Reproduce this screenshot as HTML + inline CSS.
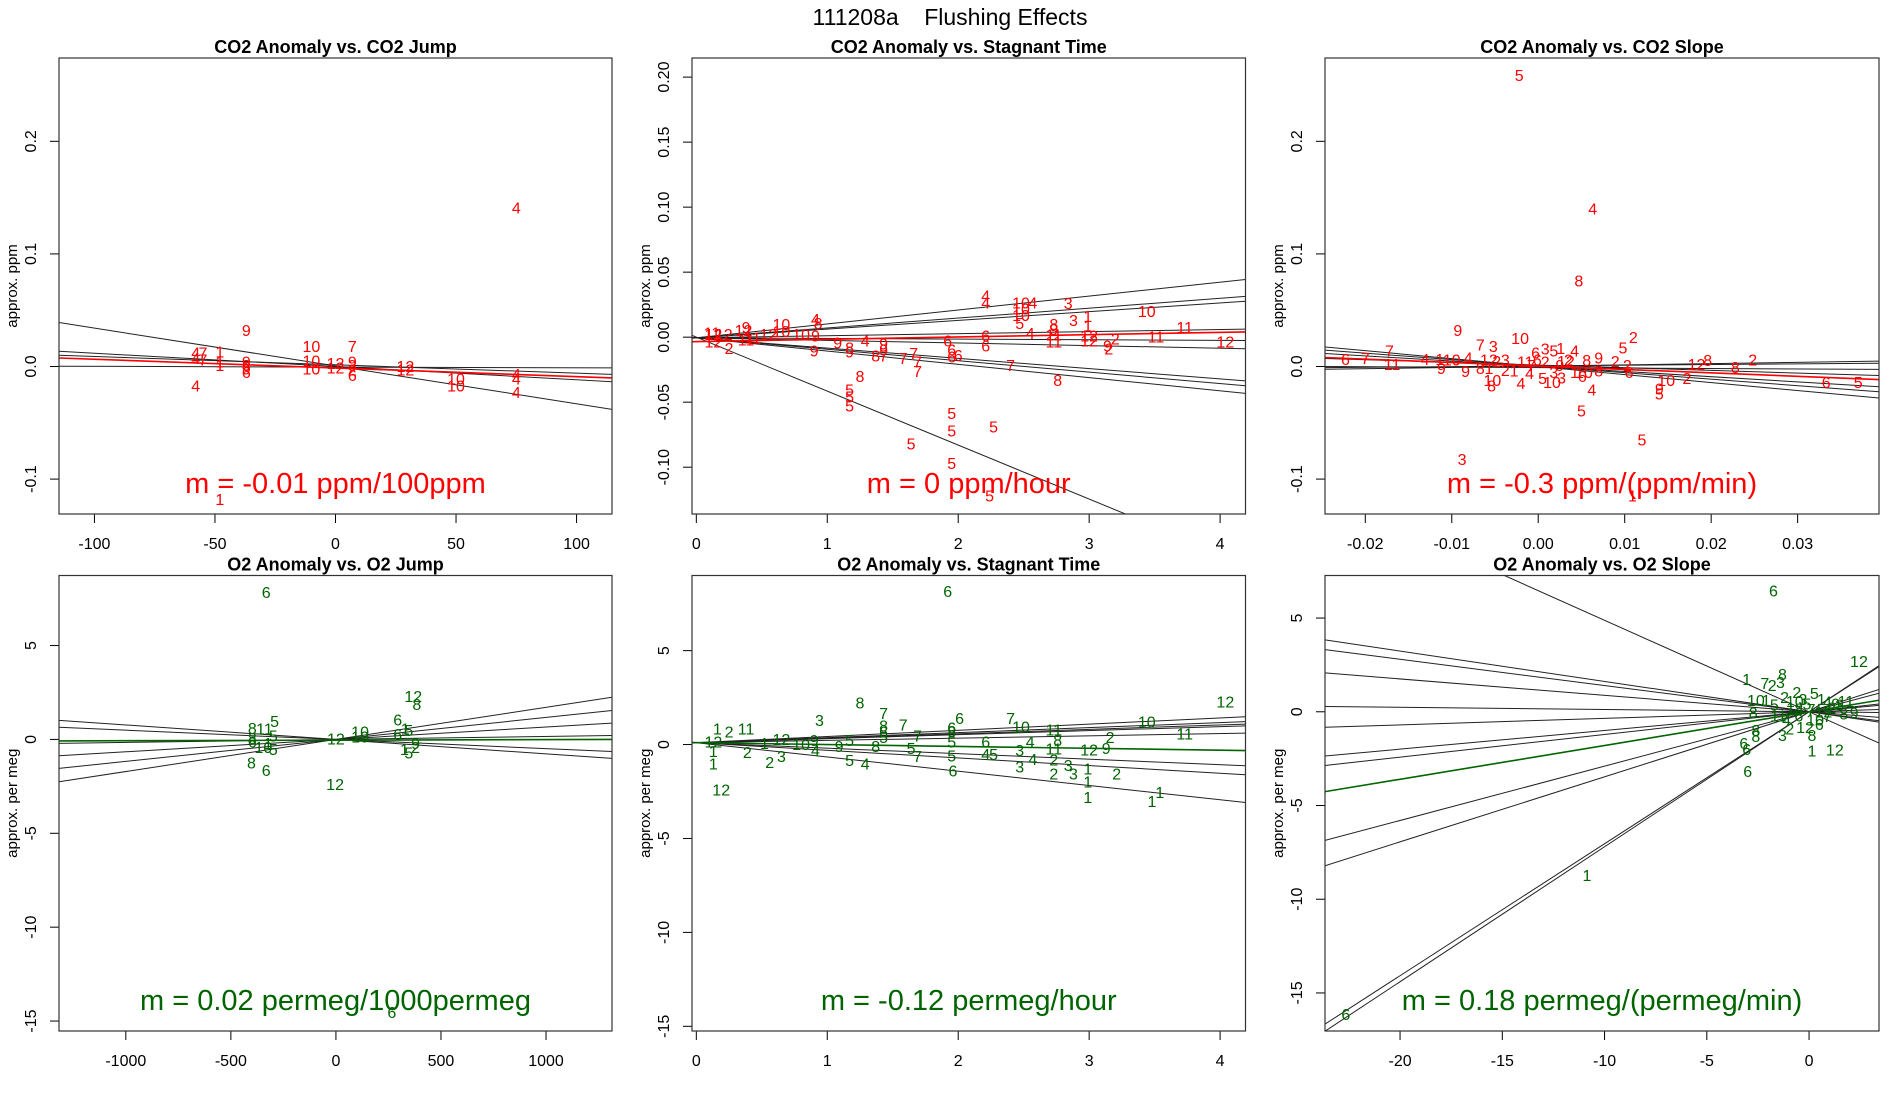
<!DOCTYPE html>
<html><head><meta charset="utf-8"><style>
html,body{margin:0;padding:0;background:#fff;}
svg{display:block;font-family:"Liberation Sans",Arial,sans-serif;}
</style></head><body>
<svg id="chart" width="1900" height="1100" viewBox="0 0 1900 1100">
<text x="950" y="25" text-anchor="middle" font-size="23" style="white-space:pre" xml:space="preserve">111208a    Flushing Effects</text>
</svg>
<script>
// ---------- Panel 1: CO2 Anomaly vs CO2 Jump ----------
const p1XTicks = [-100,-50,0,50,100];
const p1XTickLabels = ["-100","-50","0","50","100"];
const p1YTicks = [-0.1,0,0.1,0.2];
const p1YTickLabels = ["-0.1","0.0","0.1","0.2"];
const p1Points = [[75,0.14,'4'],[-37,0.031,'9'],[-10,0.017,'10'],[7,0.017,'7'],[-48,0.012,'1'],[-58,0.011,'4'],[-55,0.011,'7'],[-58,0.006,'4'],[-55,0.005,'7'],[-48,0.003,'1'],[-48,0.0,'1'],[-37,0.003,'9'],[-37,0.0,'8'],[-37,-0.003,'9'],[-37,-0.006,'6'],[-10,0.004,'10'],[-10,-0.003,'10'],[0,0.002,'12'],[0,-0.002,'12'],[7,0.003,'9'],[7,0,'3'],[7,-0.004,'2'],[7,-0.009,'6'],[29,-0.001,'12'],[29,-0.004,'12'],[50,-0.012,'10'],[50,-0.018,'10'],[75,-0.008,'4'],[75,-0.012,'4'],[75,-0.024,'4'],[-58,-0.018,'4'],[-48,-0.119,'1']];
const p1LineInts = [0.0005,0,0.0015,-0.0005];
const p1LineSlopes = [-0.000336,-0.0001177,-0.0000741,-0.0000065];
const p1FitInt = -0.0013;
const p1FitSlope = -0.0000772;

// ---------- Panel 2: CO2 Anomaly vs Stagnant Time ----------
const p2XTicks = [0,1,2,3,4];
const p2XTickLabels = ["0","1","2","3","4"];
const p2YTicks = [-0.1,-0.05,0,0.05,0.1,0.15,0.2];
const p2YTickLabels = ["-0.10","-0.05","0.00","0.05","0.10","0.15","0.20"];
const p2Points = [[2.21,0.031,'4'],[2.21,0.0255,'4'],[2.48,0.0255,'10'],[2.57,0.0255,'4'],[2.48,0.021,'10'],[2.84,0.025,'3'],[3.44,0.019,'10'],[2.48,0.016,'10'],[2.47,0.0097,'5'],[2.99,0.015,'1'],[2.88,0.012,'3'],[2.99,0.008,'1'],[3.73,0.0066,'11'],[2.73,0.009,'8'],[2.73,0.005,'9'],[2.73,0.001,'11'],[2.73,-0.0044,'11'],[2.55,0.002,'4'],[3.51,-0.0006,'11'],[3.0,0.0003,'12'],[3.0,-0.0038,'12'],[3.2,-0.002,'2'],[3.14,-0.0075,'9'],[3.15,-0.0097,'2'],[4.04,-0.0044,'12'],[2.21,0.0003,'6'],[2.21,-0.0075,'6'],[1.92,-0.0038,'6'],[1.95,-0.0107,'6'],[2.0,-0.0148,'6'],[1.95,-0.016,'6'],[1.66,-0.0132,'7'],[1.69,-0.02,'7'],[1.69,-0.027,'7'],[1.58,-0.017,'7'],[1.37,-0.0154,'8'],[1.43,-0.0154,'7'],[2.4,-0.0226,'7'],[2.76,-0.034,'8'],[1.25,-0.031,'8'],[1.29,-0.0038,'4'],[1.08,-0.0053,'9'],[1.43,-0.006,'9'],[1.43,-0.0107,'9'],[1.17,-0.009,'8'],[1.17,-0.0123,'9'],[0.9,-0.0113,'9'],[0.91,0.0129,'4'],[0.93,0.0097,'8'],[0.91,0.0003,'9'],[0.8,0.0013,'10'],[0.65,0.009,'10'],[0.65,0.0035,'10'],[0.43,-0.0013,'11'],[0.55,0.0013,'12'],[0.36,0.0044,'12'],[0.38,0.0066,'9'],[0.38,-0.003,'11'],[0.13,0.0013,'12'],[0.12,0.0025,'11'],[0.21,0.0013,'12'],[0.13,-0.0044,'12'],[0.25,-0.0094,'2'],[1.17,-0.0415,'5'],[1.17,-0.0469,'5'],[1.17,-0.0538,'5'],[1.95,-0.0594,'5'],[1.95,-0.073,'5'],[2.27,-0.0698,'5'],[1.64,-0.083,'5'],[1.95,-0.098,'5'],[2.24,-0.123,'5']];
const p2LineInts = [-0.0005,-0.0005,-0.0005,-0.0005,-0.0005,-0.0005,-0.0005,-0.0005,-0.0005,0];
const p2LineSlopes = [0.0107,0.0076,0.0067,0.0016,-0.0005,-0.002,-0.0079,-0.0088,-0.0102,-0.0415];
const p2FitInt = -0.0034;
const p2FitSlope = 0.00177;

// ---------- Panel 3: CO2 Anomaly vs CO2 Slope ----------
const p3XTicks = [-0.02,-0.01,0,0.01,0.02,0.03];
const p3XTickLabels = ["-0.02","-0.01","0.00","0.01","0.02","0.03"];
const p3YTicks = [-0.1,0,0.1,0.2];
const p3YTickLabels = ["-0.1","0.0","0.1","0.2"];
const p3Points = [[-0.0022,0.2576,'5'],[0.0063,0.139,'4'],[0.0047,0.075,'8'],[-0.0093,0.031,'9'],[-0.0021,0.024,'10'],[0.011,0.025,'2'],[0.0098,0.0156,'5'],[-0.0067,0.018,'7'],[-0.0052,0.0167,'3'],[-0.0172,0.013,'7'],[-0.0223,0.0054,'6'],[-0.02,0.0062,'7'],[-0.0169,0.0011,'11'],[-0.0131,0.0054,'4'],[-0.01,0.0047,'10'],[-0.0114,0.0054,'1'],[-0.0112,-0.0025,'9'],[-0.0084,-0.0054,'9'],[-0.0067,-0.0025,'8'],[-0.0081,0.0065,'4'],[0.0008,0.0145,'3'],[0.0018,0.013,'5'],[0.0026,0.0149,'1'],[0.0042,0.0127,'4'],[-0.0003,0.0109,'6'],[0.0035,0.0051,'2'],[0.0056,0.0043,'8'],[0.007,0.0065,'9'],[0.0089,0.0036,'2'],[0.0103,0,'2'],[0.0105,-0.0062,'6'],[0.0183,0.0011,'12'],[0.0196,0.0043,'8'],[0.0228,-0.0018,'8'],[0.0248,0.0047,'2'],[0.0148,-0.0134,'10'],[0.0172,-0.0116,'2'],[0.014,-0.0207,'9'],[0.014,-0.0254,'5'],[0.0062,-0.0217,'4'],[0.005,-0.0406,'5'],[0.012,-0.066,'5'],[-0.0088,-0.0833,'3'],[0.0109,-0.116,'1'],[0.0333,-0.0152,'6'],[0.037,-0.0152,'5'],[-0.0053,-0.0134,'10'],[-0.0054,-0.0181,'8'],[-0.002,-0.016,'4'],[0.0005,-0.0116,'5'],[0.0016,-0.0152,'10'],[0.0027,-0.0109,'3'],[0.0053,-0.0062,'10'],[0.0051,-0.0098,'6'],[0.007,-0.0051,'8'],[-0.0048,0.0036,'2'],[-0.0038,0.0047,'3'],[-0.0057,0.0047,'12'],[-0.0057,-0.0025,'1'],[-0.0038,-0.0043,'2'],[-0.001,-0.0072,'4'],[-0.0015,0.0029,'11'],[-0.0028,-0.0051,'1'],[-0.0001,0.0047,'6'],[0.0008,0.0029,'2'],[0.0032,0.0036,'12'],[0.0042,-0.0062,'1'],[0.0018,-0.0062,'3'],[-0.0008,0.0,'7'],[0.0025,0.0,'9']];
const p3LineInts = [-0.0001,0.0003,0.0002,0.0013,-0.001,0.0003,0.0005];
const p3LineSlopes = [-0.7086,-0.5775,-0.462,-0.237,-0.039,0.1124,0.061];
const p3FitInt = 0.00046;
const p3FitSlope = -0.306;

// ---------- Panel 4: O2 Anomaly vs O2 Jump ----------
const p4XTicks = [-1000,-500,0,500,1000];
const p4XTickLabels = ["-1000","-500","0","500","1000"];
const p4YTicks = [-15,-10,-5,0,5];
const p4YTickLabels = ["-15","-10","-5","0","5"];
const p4Points = [[-332,7.78,'6'],[368,2.22,'12'],[385,1.81,'8'],[294,0.98,'6'],[-292,0.89,'5'],[-340,0.49,'11'],[-398,0.53,'8'],[-398,0.0,'8'],[-298,0.12,'5'],[-398,-0.18,'6'],[-345,-0.49,'10'],[-298,-0.59,'5'],[-323,-0.28,'1'],[-402,-1.3,'8'],[-332,-1.71,'6'],[-4,-2.46,'12'],[0,-0.04,'12'],[115,0.33,'10'],[115,0.08,'10'],[294,0.22,'6'],[326,-0.59,'1'],[347,-0.79,'5'],[379,-0.28,'9'],[379,-0.49,'2'],[347,0.43,'5'],[330,0.5,'1'],[266,-14.6,'6']];
const p4LineInts = [0,0,0,0,0,0];
const p4LineSlopes = [-0.00077,-0.00049,0.00016,0.00066,0.00117,0.00171];
const p4FitInt = -0.04;
const p4FitSlope = 0.00003;

// ---------- Panel 5: O2 Anomaly vs Stagnant Time ----------
const p5XTicks = [0,1,2,3,4];
const p5XTickLabels = ["0","1","2","3","4"];
const p5YTicks = [-15,-10,-5,0,5];
const p5YTickLabels = ["-15","-10","-5","0","5"];
const p5Points = [[1.92,8.1,'6'],[4.04,2.2,'12'],[1.25,2.17,'8'],[1.43,1.59,'7'],[1.58,1.0,'7'],[2.01,1.33,'6'],[2.4,1.33,'7'],[2.48,0.89,'10'],[3.44,1.15,'10'],[3.73,0.5,'11'],[0.94,1.22,'3'],[0.16,0.78,'1'],[0.25,0.61,'2'],[0.38,0.78,'11'],[1.43,0.93,'8'],[1.43,0.61,'6'],[1.43,0.33,'5'],[1.69,0.39,'7'],[1.95,0.83,'6'],[1.95,0.65,'8'],[1.95,0.07,'5'],[1.95,-0.65,'5'],[1.96,-1.46,'6'],[2.73,0.72,'11'],[2.76,0.17,'8'],[2.73,-0.3,'11'],[2.73,-0.87,'2'],[2.73,-1.61,'2'],[2.84,-1.17,'3'],[2.88,-1.61,'3'],[2.99,-1.35,'1'],[2.99,-2.04,'1'],[2.99,-2.87,'1'],[3.54,-2.61,'1'],[3.48,-3.09,'1'],[3.0,-0.33,'12'],[3.13,-0.26,'9'],[3.16,0.33,'2'],[3.21,-1.61,'2'],[2.55,0.07,'4'],[2.57,-0.85,'4'],[2.47,-0.37,'3'],[2.47,-1.24,'3'],[2.21,0.07,'6'],[2.21,-0.59,'4'],[2.27,-0.59,'5'],[1.64,-0.26,'5'],[1.69,-0.7,'7'],[1.37,-0.15,'8'],[1.09,-0.15,'9'],[1.17,0.17,'5'],[1.17,-0.91,'5'],[1.29,-1.09,'4'],[0.91,-0.37,'4'],[0.9,0.17,'9'],[0.8,-0.04,'10'],[0.65,-0.7,'3'],[0.56,-1.02,'2'],[0.65,0.22,'12'],[0.52,0,'1'],[0.39,-0.48,'2'],[0.13,0.07,'12'],[0.13,-0.43,'1'],[0.13,-1.09,'1'],[0.19,-2.48,'12']];
const p5LineInts = [0.1,0.1,0.1,0.1,0.1,0.1,0.1,0.1];
const p5LineSlopes = [0.329,0.267,0.236,0.214,0.121,-0.293,-0.407,-0.76];
const p5FitInt = 0.1;
const p5FitSlope = -0.1;

// ---------- Panel 6: O2 Anomaly vs O2 Slope ----------
const p6XTicks = [-20,-15,-10,-5,0];
const p6XTickLabels = ["-20","-15","-10","-5","0"];
const p6YTicks = [-15,-10,-5,0,5];
const p6YTickLabels = ["-15","-10","-5","0","5"];
const p6Points = [[-1.74,6.38,'6'],[2.44,2.62,'12'],[-3.05,1.68,'1'],[-2.16,1.46,'7'],[-1.8,1.35,'2'],[-1.4,1.51,'3'],[-1.3,1.94,'8'],[-2.6,0.55,'10'],[-2.1,0.55,'1'],[-2.73,-0.11,'8'],[-3.19,-1.75,'6'],[-3.0,-3.23,'6'],[-3.05,-2.07,'6'],[-2.6,-1.38,'8'],[-2.6,-1.05,'8'],[-1.3,-1.33,'3'],[-0.94,-0.98,'2'],[0.14,-2.14,'1'],[1.26,-2.1,'12'],[0.14,-1.33,'8'],[0.26,0.92,'5'],[-0.6,0.98,'2'],[-10.86,-8.8,'1'],[-22.65,-16.2,'6'],[2.2,-0.11,'9'],[1.7,-0.17,'8'],[0.9,0.48,'4'],[-0.1,0.37,'5'],[-0.5,-0.28,'6'],[0.3,-0.5,'10'],[-0.9,0.15,'1'],[0.7,-0.06,'12'],[-0.3,0.6,'3'],[1.1,0.15,'2'],[-1.5,-0.28,'11'],[0.1,0.06,'7'],[1.3,0.37,'9'],[0.5,-0.72,'6'],[-1.1,-0.5,'4'],[-0.7,0.5,'10'],[0.6,0.6,'1'],[1.5,0.3,'3'],[-1.7,0.3,'5'],[-0.2,-0.9,'12'],[0.9,-0.3,'7'],[-1.2,0.7,'2'],[1.8,0.5,'11'],[-0.5,0.1,'8']];
const p6LineInts = [0,0,0,0,0,0,0,0,0,0,0,0];
const p6LineSlopes = [-0.488,-0.162,-0.14,-0.0876,-0.012,0.035,0.0997,0.121,0.29,0.347,0.704,0.72];
const p6FitInt = 0;
const p6FitSlope = 0.18;

const NS = "http://www.w3.org/2000/svg";
const svg = document.getElementById('chart');
function mk(tag, attrs, parent){
  const e = document.createElementNS(NS, tag);
  for (const k in attrs) e.setAttribute(k, attrs[k]);
  (parent||svg).appendChild(e);
  return e;
}

const panels = [
  {id:'co2-jump', title:'CO2 Anomaly vs. CO2 Jump', box:[59,58,612,514], xr:[-114.7,114.7], yr:[-0.131,0.274], xt:p1XTicks, xtl:p1XTickLabels, yt:p1YTicks, ytl:p1YTickLabels, pts:p1Points, li:p1LineInts, ls:p1LineSlopes, fi:p1FitInt, fs:p1FitSlope, col:'#ff0000', ylab:'approx. ppm', ann:'m = -0.01 ppm/100ppm'},
  {id:'co2-stagnant', title:'CO2 Anomaly vs. Stagnant Time', box:[692,58,1245.5,514], xr:[-0.033,4.194], yr:[-0.136,0.2147], xt:p2XTicks, xtl:p2XTickLabels, yt:p2YTicks, ytl:p2YTickLabels, pts:p2Points, li:p2LineInts, ls:p2LineSlopes, fi:p2FitInt, fs:p2FitSlope, col:'#ff0000', ylab:'approx. ppm', ann:'m = 0 ppm/hour'},
  {id:'co2-slope', title:'CO2 Anomaly vs. CO2 Slope', box:[1325,58,1879,514], xr:[-0.02466,0.03941], yr:[-0.131,0.274], xt:p3XTicks, xtl:p3XTickLabels, yt:p3YTicks, ytl:p3YTickLabels, pts:p3Points, li:p3LineInts, ls:p3LineSlopes, fi:p3FitInt, fs:p3FitSlope, col:'#ff0000', ylab:'approx. ppm', ann:'m = -0.3 ppm/(ppm/min)'},
  {id:'o2-jump', title:'O2 Anomaly vs. O2 Jump', box:[59,575.5,612,1031], xr:[-1318,1314], yr:[-15.53,8.73], xt:p4XTicks, xtl:p4XTickLabels, yt:p4YTicks, ytl:p4YTickLabels, pts:p4Points, li:p4LineInts, ls:p4LineSlopes, fi:p4FitInt, fs:p4FitSlope, col:'#006400', ylab:'approx. per meg', ann:'m = 0.02 permeg/1000permeg'},
  {id:'o2-stagnant', title:'O2 Anomaly vs. Stagnant Time', box:[692,575.5,1245.5,1031], xr:[-0.033,4.194], yr:[-15.25,9.0], xt:p5XTicks, xtl:p5XTickLabels, yt:p5YTicks, ytl:p5YTickLabels, pts:p5Points, li:p5LineInts, ls:p5LineSlopes, fi:p5FitInt, fs:p5FitSlope, col:'#006400', ylab:'approx. per meg', ann:'m = -0.12 permeg/hour'},
  {id:'o2-slope', title:'O2 Anomaly vs. O2 Slope', box:[1325,575.5,1879,1031], xr:[-23.67,3.42], yr:[-17.03,7.27], xt:p6XTicks, xtl:p6XTickLabels, yt:p6YTicks, ytl:p6YTickLabels, pts:p6Points, li:p6LineInts, ls:p6LineSlopes, fi:p6FitInt, fs:p6FitSlope, col:'#006400', ylab:'approx. per meg', ann:'m = 0.18 permeg/(permeg/min)'}
];

panels.forEach(function(p){
  const [L,T,R,B] = p.box;
  const sx = v => L + (v - p.xr[0]) / (p.xr[1]-p.xr[0]) * (R-L);
  const sy = v => B - (v - p.yr[0]) / (p.yr[1]-p.yr[0]) * (B-T);
  const g = mk('g', {});
  
  
  const cp = mk('clipPath', {id:'clip-'+p.id}, g);
  mk('rect', {x:L, y:T, width:R-L, height:B-T}, cp);

  const title = mk('text', {x:(L+R)/2, y:T-5, 'text-anchor':'middle', 'font-size':18, 'font-weight':'bold'}, g);
  title.textContent = p.title;
  
  

  p.xt.forEach(function(v,i){
    const x = sx(v);
    const tk = mk('line', {x1:x, y1:B, x2:x, y2:B+9, stroke:'#000', 'stroke-width':1}, g);
    
    
    const t = mk('text', {x:x, y:B+35, 'text-anchor':'middle', 'font-size':16}, g);
    t.textContent = p.xtl[i];
    
    
  });
  const xa = mk('line', {x1:sx(p.xt[0]), y1:B, x2:sx(p.xt[p.xt.length-1]), y2:B, stroke:'#000'}, g);
  
  
  p.yt.forEach(function(v,i){
    const y = sy(v);
    const tk = mk('line', {x1:L-9, y1:y, x2:L, y2:y, stroke:'#000', 'stroke-width':1}, g);
    
    
    const t = mk('text', {x:0, y:0, 'text-anchor':'middle', 'font-size':16, transform:'translate('+(L-23)+','+y+') rotate(-90)'}, g);
    t.textContent = p.ytl[i];
    
    
  });
  const yl = mk('text', {x:0, y:0, 'text-anchor':'middle', 'font-size':15, transform:'translate('+(L-42)+','+((T+B)/2)+') rotate(-90)'}, g);
  yl.textContent = p.ylab;
  
  

  const inner = mk('g', {'clip-path':'url(#clip-'+p.id+')'}, g);
  p.ls.forEach(function(s,i){
    const a = p.li[i];
    const ln = mk('line', {x1:sx(p.xr[0]), y1:sy(a + s*p.xr[0]), x2:sx(p.xr[1]), y2:sy(a + s*p.xr[1]), stroke:'#222', 'stroke-width':1}, inner);
    
    
  });
  p.pts.forEach(function(pt){
    const t = mk('text', {x:sx(pt[0]), y:sy(pt[1]), 'text-anchor':'middle', 'dominant-baseline':'central', 'font-size':16, fill:p.col}, inner);
    t.textContent = pt[2];
    
    
  });
  const fl = mk('line', {x1:sx(p.xr[0]), y1:sy(p.fi + p.fs*p.xr[0]), x2:sx(p.xr[1]), y2:sy(p.fi + p.fs*p.xr[1]), stroke:p.col, 'stroke-width':1.6}, inner);
  
  

  const an = mk('text', {x:(L+R)/2, y:B-21, 'text-anchor':'middle', 'font-size':29, fill:p.col}, g);
  an.textContent = p.ann;
  
  

  const box = mk('rect', {x:L, y:T, width:R-L, height:B-T, fill:'none', stroke:'#333', 'stroke-width':1.2}, g);
  
  
});
</script>
</body></html>
